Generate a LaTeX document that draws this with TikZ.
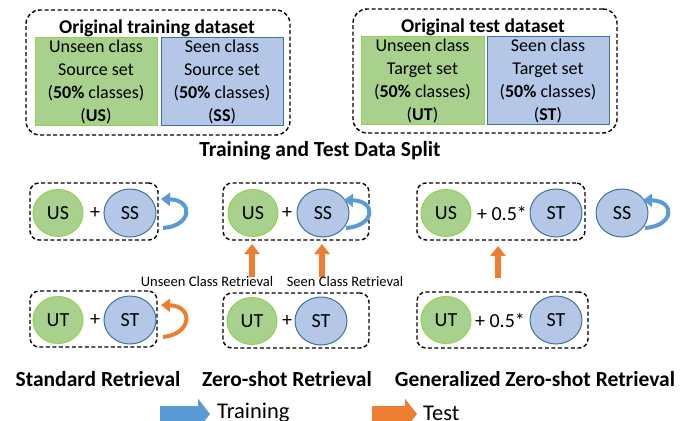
\documentclass[tikz,border=0pt]{standalone}
\usepackage{fontspec}
\setmainfont{Carlito}
\usetikzlibrary{arrows.meta,shapes.geometric}
\definecolor{gfill}{HTML}{A9D18E}
\definecolor{gline}{HTML}{92D050}
\definecolor{bfill}{HTML}{B4C7E7}
\definecolor{bline}{HTML}{41719C}
\definecolor{tblue}{HTML}{5B9BD5}
\definecolor{torange}{HTML}{ED7D31}
\tikzset{
  dbox/.style={draw=black, dashed, dash pattern=on 4pt off 2.5pt, line width=1.4pt, rounded corners=#1, inner sep=0pt},
  dbox/.default=9pt,
  grect/.style={draw=gline, fill=gfill, line width=1pt, inner sep=0pt, align=center, font=\fontsize{18}{23}\selectfont},
  brect/.style={draw=bline, fill=bfill, line width=1pt, inner sep=0pt, align=center, font=\fontsize{18}{23}\selectfont},
  gcirc/.style={ellipse, draw=gline, fill=gfill, line width=1pt, minimum width=50pt, minimum height=47pt, inner sep=0pt, font=\fontsize{20}{24}\selectfont},
  bcirc/.style={ellipse, draw=bline, fill=bfill, line width=1pt, minimum width=52pt, minimum height=48pt, inner sep=0pt, font=\fontsize{20}{24}\selectfont},
  title/.style={font=\fontsize{19.5}{23}\selectfont\bfseries, inner sep=0pt},
  bigtitle/.style={font=\fontsize{21.5}{25}\selectfont\bfseries, inner sep=0pt},
  optxt/.style={font=\fontsize{20}{24}\selectfont, inner sep=0pt},
  legtxt/.style={font=\fontsize{22.5}{26}\selectfont, inner sep=0pt},
  small/.style={font=\fontsize{14.5}{17}\selectfont, inner sep=0pt},
  uparrow/.style={draw=torange, line width=6pt, -{Triangle[length=10pt,width=15pt]}},
  trainloop/.style={draw=tblue, line width=4pt, -{Triangle[length=9pt,width=13pt]}},
  testloop/.style={draw=torange, line width=4pt, -{Triangle[length=9pt,width=13pt]}},
}
\begin{document}
\begin{tikzpicture}[x=1pt,y=-1pt]
\useasboundingbox (0,0) rectangle (698,420);
% top left
\node[dbox=14pt, minimum width=264pt, minimum height=125pt] (trbox) at (158,72.5) {};
\node[title] (trtitle) at (157,28) {Original training dataset};
\node[grect, minimum width=122pt, minimum height=87pt] (us) at (96,81.5) {Unseen class\\Source set\\(\textbf{50\%} classes)\\(\textbf{US})};
\node[brect, minimum width=122pt, minimum height=87pt] (ss) at (222,81.5) {Seen class\\Source set\\(\textbf{50\%} classes)\\(\textbf{SS})};
% top right
\node[dbox=14pt, minimum width=264pt, minimum height=124pt] (tebox) at (485,71) {};
\node[title] (tetitle) at (483,27) {Original test dataset};
\node[grect, minimum width=123pt, minimum height=87pt] (ut) at (422.5,80.5) {Unseen class\\Target set\\(\textbf{50\%} classes)\\(\textbf{UT})};
\node[brect, minimum width=122pt, minimum height=87pt] (st) at (548,80.5) {Seen class\\Target set\\(\textbf{50\%} classes)\\(\textbf{ST})};
\node[bigtitle] (split) at (320,151) {Training and Test Data Split};
% middle row
\node[dbox, minimum width=128pt, minimum height=57pt] (ma) at (94,211.5) {};
\node[gcirc] (maus) at (58,213) {US};
\node[optxt] (maplus) at (95,213) {+};
\node[bcirc] (mass) at (130,213) {SS};
\node[dbox, minimum width=146pt, minimum height=57pt] (mb) at (296,211.5) {};
\node[gcirc] (mbus) at (253,213) {US};
\node[optxt] (mbplus) at (287,213) {+};
\node[bcirc] (mbss) at (323,213) {SS};
\node[dbox, minimum width=168pt, minimum height=57pt] (mc) at (501,211.5) {};
\node[gcirc] (mcus) at (446,213) {US};
\node[optxt] (mcplus) at (502,213) {+ 0.5*};
\node[bcirc] (mcst) at (556,213) {ST};
\node[bcirc] (mcss) at (622,213) {SS};
% bottom row
\node[dbox, minimum width=127pt, minimum height=56pt] (ba) at (93.5,319) {};
\node[gcirc] (baut) at (58,320) {UT};
\node[optxt] (baplus) at (95,320) {+};
\node[bcirc] (bast) at (130,320) {ST};
\node[dbox, minimum width=146pt, minimum height=55pt] (bb) at (296,320.5) {};
\node[gcirc] (bbut) at (252,321) {UT};
\node[optxt] (bbplus) at (287,321) {+};
\node[bcirc] (bbst) at (321,321) {ST};
\node[dbox, minimum width=171pt, minimum height=56pt] (bc) at (502.5,320) {};
\node[gcirc] (bcut) at (446,320) {UT};
\node[optxt] (bcplus) at (500,320) {+ 0.5*};
\node[bcirc] (bcst) at (556,320) {ST};
% retrieval arrows
\coordinate (r1a) at (252,277); \coordinate (r1b) at (252,244);
\coordinate (r2a) at (322,277); \coordinate (r2b) at (322,244);
\coordinate (r3a) at (498,278); \coordinate (r3b) at (498,246);
\draw[uparrow] (r1a) -- (r1b);
\draw[uparrow] (r2a) -- (r2b);
\draw[uparrow] (r3a) -- (r3b);
\node[small] (unl) at (207,282) {Unseen Class Retrieval};
\node[small] (snl) at (345,282) {Seen Class Retrieval};
% loops
\coordinate (l1a) at (163,228); \coordinate (l1b) at (161,199);
\draw[trainloop] (l1a) .. controls (192,226) and (194,200) .. (l1b);
\coordinate (l2a) at (346,228); \coordinate (l2b) at (344,200);
\draw[trainloop] (l2a) .. controls (375,226) and (377,201) .. (l2b);
\coordinate (l3a) at (645,228); \coordinate (l3b) at (643,200);
\draw[trainloop] (l3a) .. controls (674,226) and (676,201) .. (l3b);
\coordinate (l4a) at (163,337); \coordinate (l4b) at (161,305);
\draw[testloop] (l4a) .. controls (192,334) and (194,306) .. (l4b);
% labels
\node[bigtitle] (stdl) at (98,379) {Standard Retrieval};
\node[bigtitle] (zsl) at (287,379) {Zero-shot Retrieval};
\node[bigtitle] (gzsl) at (535,379) {Generalized Zero-shot Retrieval};
% legend
\coordinate (lg1a) at (160,414); \coordinate (lg1b) at (210,414);
\draw[draw=tblue, line width=16pt, -{Triangle[length=12pt,width=30pt]}] (lg1a) -- (lg1b);
\node[legtxt, anchor=west] (lgtr) at (217,413) {Training};
\coordinate (lg2a) at (372,414); \coordinate (lg2b) at (417,414);
\draw[draw=torange, line width=16pt, -{Triangle[length=12pt,width=30pt]}] (lg2a) -- (lg2b);
\node[legtxt, anchor=west] (lgte) at (423,413) {Test};
\end{tikzpicture}
\end{document}
